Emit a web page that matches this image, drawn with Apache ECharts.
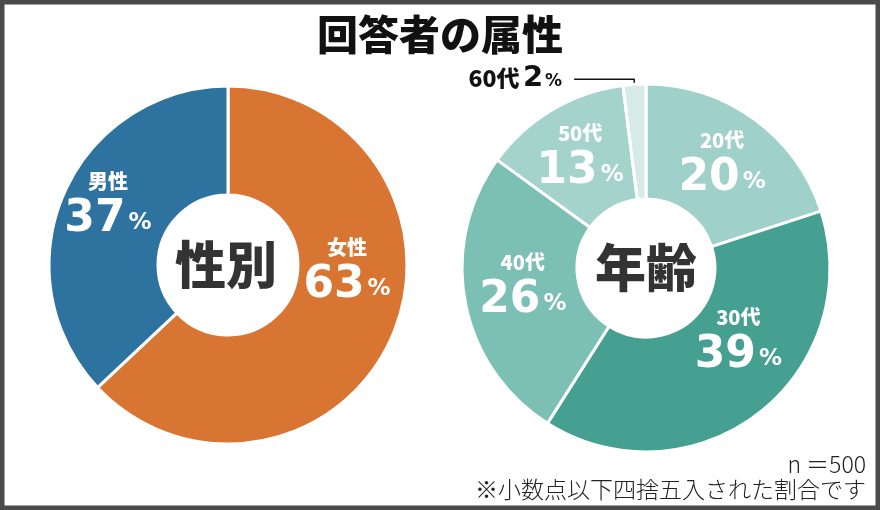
<!DOCTYPE html>
<html>
<head>
<meta charset="utf-8">
<script src="https://cdn.jsdelivr.net/npm/echarts@6/dist/echarts.min.js"></script>
<style>
html,body{margin:0;padding:0;background:#fff;}
#chart{width:880px;height:510px;}
</style>
</head>
<body>
<div id="chart"></div>
<script>
(()=>{
    "use strict";
    // gender split
    let genderNames = ["女性", "男性"];
    let genderValues = [63, 37];
    let genderColors = ["#d97532", "#2e73a0"];
    // age split
    let ageNames = ["20代", "30代", "40代", "50代", "60代"];
    let ageValues = [20, 39, 26, 13, 2];
    let ageColors = ["#9fd0c9", "#45a092", "#7cbfb5", "#a4d3cc", "#d6ebe8"];

    let JP = "'Noto Sans CJK JP', sans-serif";
    let NUM = "'DejaVu Sans', sans-serif";

    // small nudges for labels that sit off the slice middle
    let nudge = {"女性":[2,-45], "男性":[-3,-10], "30代":[13,-30], "40代":[4,-7]};

    let innerRich = {
        n:{fontFamily:JP, fontWeight:900, fontSize:20, color:"#fff", lineHeight:30},
        v:{fontFamily:NUM, fontWeight:"bold", fontSize:44, color:"#fff", lineHeight:46},
        p:{fontFamily:NUM, fontWeight:"bold", fontSize:23, color:"#fff", lineHeight:46, verticalAlign:"bottom", padding:[0,0,8,3]}
    };

    let toData = (names, values, colors) => names.map((n, i) => ({name:n, value:values[i], itemStyle:{color:colors[i]}}));

    let ageData = toData(ageNames, ageValues, ageColors);
    // the smallest slice gets its label outside with a leader line
    ageData[4].label = {
        position:"outside", formatter:"{n|{b}} {v|{c}}{p|%}", distanceToLabelLine:12, padding:[0,0,18,0],
        rich:{
            n:{fontFamily:JP, fontWeight:900, fontSize:23, color:"#111", verticalAlign:"bottom", padding:[0,0,4,0]},
            v:{fontFamily:NUM, fontWeight:"bold", fontSize:29, color:"#111", verticalAlign:"bottom"},
            p:{fontFamily:NUM, fontWeight:"bold", fontSize:17, color:"#111", verticalAlign:"bottom", padding:[0,0,3,2]}
        }
    };
    ageData[4].labelLine = {show:true, length:5, length2:60, lineStyle:{color:"#111", width:1.5}};

    let chart = echarts.init(document.getElementById("chart"), null, {renderer:"canvas"});
    let option = {
        animation:false,
        title:{
            text:"回答者の属性", left:"center", top:9,
            textStyle:{fontFamily:JP, fontWeight:900, fontSize:41, color:"#111"}
        },
        graphic:[
            {type:"rect", shape:{x:0, y:0, width:880, height:510}, style:{fill:"none", stroke:"#4a4a4a", lineWidth:9}, z:100},
            {type:"text", style:{text:"性別", x:226, y:265, align:"center", verticalAlign:"middle", fontFamily:JP, fontWeight:900, fontSize:51, fill:"#333"}, z:50},
            {type:"text", style:{text:"年齢", x:646, y:268, align:"center", verticalAlign:"middle", fontFamily:JP, fontWeight:900, fontSize:51, fill:"#333"}, z:50},
            {type:"text", style:{text:"n ＝500", x:866, y:464, align:"right", verticalAlign:"middle", fontFamily:JP, fontWeight:300, fontSize:23, fill:"#222"}},
            {type:"text", style:{text:"※小数点以下四捨五入された割合です", x:866, y:489, align:"right", verticalAlign:"middle", fontFamily:JP, fontWeight:300, fontSize:23, fill:"#222"}}
        ],
        series:[
            {
                type:"pie", name:"性別", center:[228, 265], radius:[70, 179], startAngle:90, clockwise:true,
                data:toData(genderNames, genderValues, genderColors),
                itemStyle:{borderColor:"#fff", borderWidth:3},
                label:{show:true, position:"inside", formatter:"{n|{b}}\n{v|{c}}{p|%}", rich:innerRich},
                labelLine:{show:false},
                labelLayout:p => { let d = nudge[genderNames[p.dataIndex]]; return d ? {dx:d[0], dy:d[1]} : {}; },
                emphasis:{disabled:true}, silent:true
            },
            {
                type:"pie", name:"年齢", center:[646, 268], radius:[69, 184], startAngle:90, clockwise:true,
                data:ageData,
                itemStyle:{borderColor:"#fff", borderWidth:3},
                label:{show:true, position:"inside", formatter:"{n|{b}}\n{v|{c}}{p|%}", rich:innerRich},
                labelLine:{show:false},
                labelLayout:p => { let d = nudge[ageNames[p.dataIndex]]; return d ? {dx:d[0], dy:d[1]} : {}; },
                emphasis:{disabled:true}, silent:true
            }
        ]
    };
    chart.setOption(option);
})();
</script>
</body>
</html>
